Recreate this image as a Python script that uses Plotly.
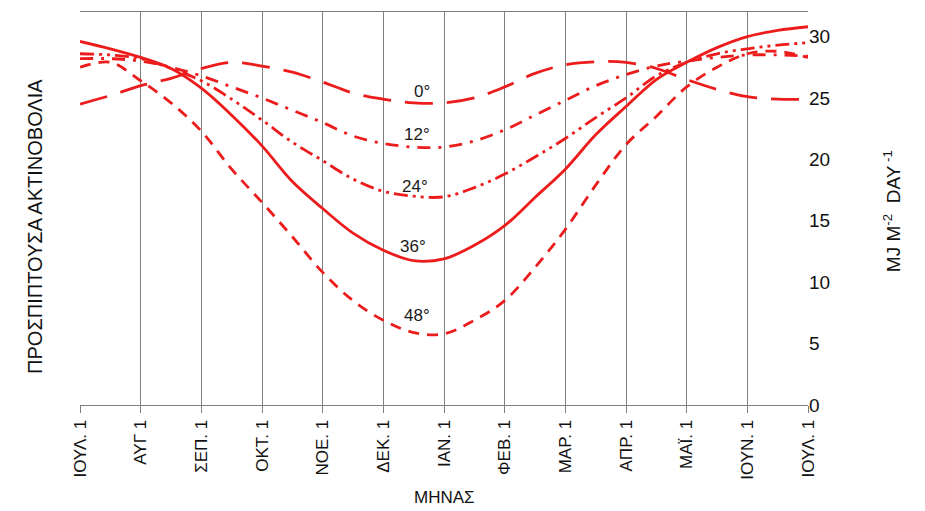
import plotly.graph_objects as go

# Month positions (0 = 1 July ... 12 = 1 July next year), half-month resolution
months = [i * 0.5 for i in range(25)]
month_labels = ["ΙΟΥΛ. 1", "ΑΥΓ 1", "ΣΕΠ. 1", "ΟΚΤ. 1", "ΝΟΕ. 1", "ΔΕΚ. 1", "ΙΑΝ. 1",
                "ΦΕΒ. 1", "ΜΑΡ. 1", "ΑΠΡ. 1", "ΜΑΪ. 1", "ΙΟΥΝ. 1", "ΙΟΥΛ. 1"]
right_ticks = [0, 5, 10, 15, 20, 25, 30]

lat_0 = [24.5, 25.2, 26.0, 26.6, 27.4, 27.9, 27.6, 27.1, 26.3, 25.4, 24.9, 24.6, 24.6,
         25.0, 25.9, 27.0, 27.7, 27.95, 27.9, 27.4, 26.5, 25.7, 25.1, 24.9, 24.9]
lat_12 = [28.2, 28.2, 28.0, 27.5, 26.8, 25.9, 25.0, 24.0, 23.0, 21.9, 21.3, 21.0, 21.0,
          21.5, 22.4, 23.6, 24.8, 26.0, 26.9, 27.6, 28.0, 28.3, 28.5, 28.5, 28.4]
lat_24 = [28.6, 28.5, 28.2, 27.4, 26.4, 24.9, 23.2, 21.4, 19.9, 18.4, 17.4, 17.0, 16.95,
          17.7, 18.8, 20.2, 21.7, 23.4, 25.0, 26.8, 27.9, 28.6, 29.0, 29.3, 29.5]
lat_36 = [29.6, 29.0, 28.3, 27.4, 25.8, 23.6, 21.1, 18.2, 16.0, 14.0, 12.6, 11.75, 11.9,
          13.0, 14.6, 16.9, 19.2, 22.0, 24.3, 26.5, 27.9, 29.1, 30.0, 30.5, 30.8]
lat_48 = [27.5, 27.9, 26.4, 24.6, 22.3, 19.2, 16.5, 13.7, 10.8, 8.5, 6.9, 5.9, 5.8,
          6.9, 8.5, 11.2, 14.3, 17.9, 21.2, 23.5, 25.9, 27.5, 28.6, 28.8, 28.3]

series = [
    ("0°", lat_0, "28px,14px"),
    ("12°", lat_12, "13px,8px,3px,8px"),
    ("24°", lat_24, "14px,5px,3px,5px,3px,5px"),
    ("36°", lat_36, "solid"),
    ("48°", lat_48, "11px,8px"),
]
label_pos = {"0°": (5.64, 25.5), "12°": (5.55, 22.0), "24°": (5.52, 17.8),
             "36°": (5.49, 12.9), "48°": (5.55, 7.25)}

RED = "#ec1c1c"
GRID = "#7f7f7f"
FONT = "Liberation Sans, Arial, sans-serif"

fig = go.Figure()
for name, vals, dash in series:
    fig.add_trace(go.Scatter(x=months, y=vals, mode="lines", name=name, yaxis="y2",
                             line=dict(color=RED, width=2.8, dash=dash, shape="spline",
                                       smoothing=1.0),
                             showlegend=False, hoverinfo="skip"))

annotations = []
for name, _, _ in series:
    lx, ly = label_pos[name]
    annotations.append(dict(x=lx, y=ly, xref="x", yref="y2", text=name, showarrow=False,
                            font=dict(family=FONT, size=17, color="#1a1a1a")))

annotations += [
    dict(x=-0.080, y=0.455, xref="paper", yref="paper", text="ΠΡΟΣΠΙΠΤΟΥΣΑ ΑΚΤΙΝΟΒΟΛΙΑ",
         textangle=-90, showarrow=False, font=dict(family=FONT, size=20, color="#111")),
    dict(x=1.135, y=0.494, xref="paper", yref="paper",
         text="MJ M<sup>-2</sup>  DAY<sup> -1</sup>",
         textangle=-90, showarrow=False, font=dict(family=FONT, size=19, color="#111")),
    dict(x=0.501, y=-0.236, xref="paper", yref="paper", yanchor="middle", text="ΜΗΝΑΣ",
         showarrow=False, font=dict(family=FONT, size=17, color="#111")),
]

fig.update_layout(
    width=917, height=503,
    margin=dict(l=72, r=117, t=4, b=106),
    paper_bgcolor="white", plot_bgcolor="white",
    font=dict(family=FONT, color="#111"),
    xaxis=dict(range=[0, 12], tickvals=list(range(13)), ticktext=month_labels,
               tickangle=-90, showgrid=True, gridcolor=GRID, gridwidth=1,
               ticks="outside", ticklen=7, tickcolor=GRID, tickfont=dict(size=17),
               showline=True, linecolor=GRID, mirror=True, zeroline=False),
    yaxis=dict(range=[0, 7], dtick=1, showticklabels=False, showgrid=True,
               gridcolor=GRID, gridwidth=1, zeroline=False, showline=True,
               linecolor=GRID, mirror=True, ticks=""),
    yaxis2=dict(range=[0, 32], tickvals=right_ticks, overlaying="y", side="right",
                showgrid=False, zeroline=False, ticks="", tickfont=dict(size=19),
                showline=False),
    annotations=annotations,
)

fig.write_html("out.html")
